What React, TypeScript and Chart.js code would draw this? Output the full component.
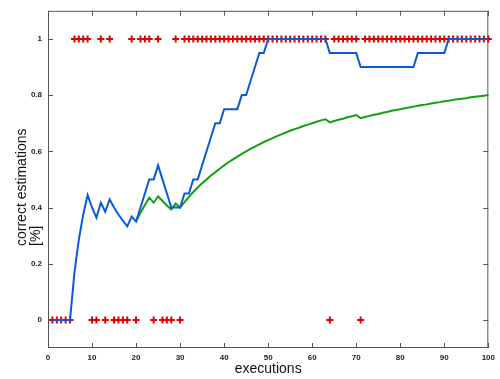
import { useEffect, useRef } from "react";
import { Chart, registerables } from "chart.js";

Chart.register(...registerables);

// Outcome of each execution 1..100 (1 = correct estimation, 0 = wrong)
const outcomes: number[] = [
  0, 0, 0, 0, 0, 1, 1, 1, 1, 0,
  0, 1, 0, 1, 0, 0, 0, 0, 1, 0,
  1, 1, 1, 0, 1, 0, 0, 0, 1, 0,
  1, 1, 1, 1, 1, 1, 1, 1, 1, 1,
  1, 1, 1, 1, 1, 1, 1, 1, 1, 1,
  1, 1, 1, 1, 1, 1, 1, 1, 1, 1,
  1, 1, 1, 0, 1, 1, 1, 1, 1, 1,
  0, 1, 1, 1, 1, 1, 1, 1, 1, 1,
  1, 1, 1, 1, 1, 1, 1, 1, 1, 1,
  1, 1, 1, 1, 1, 1, 1, 1, 1, 1,
];

// Rate of correct estimations over the last (up to) 20 executions, executions 1..100
const windowRate: number[] = [
  0, 0, 0, 0, 0, 0.167, 0.286, 0.375, 0.444, 0.4,
  0.364, 0.417, 0.385, 0.429, 0.4, 0.375, 0.353, 0.333, 0.368, 0.35,
  0.4, 0.45, 0.5, 0.5, 0.55, 0.5, 0.45, 0.4, 0.4, 0.4,
  0.45, 0.45, 0.5, 0.5, 0.55, 0.6, 0.65, 0.7, 0.7, 0.75,
  0.75, 0.75, 0.75, 0.8, 0.8, 0.85, 0.9, 0.95, 0.95, 1,
  1, 1, 1, 1, 1, 1, 1, 1, 1, 1,
  1, 1, 1, 0.95, 0.95, 0.95, 0.95, 0.95, 0.95, 0.95,
  0.9, 0.9, 0.9, 0.9, 0.9, 0.9, 0.9, 0.9, 0.9, 0.9,
  0.9, 0.9, 0.9, 0.95, 0.95, 0.95, 0.95, 0.95, 0.95, 0.95,
  1, 1, 1, 1, 1, 1, 1, 1, 1, 1,
];

// Overall rate of correct estimations, executions 20..100
const overallStart = 20;
const overallRate: number[] = [
  0.35, 0.381, 0.409, 0.435, 0.417, 0.44, 0.423, 0.407, 0.393, 0.414,
  0.4, 0.419, 0.438, 0.455, 0.471, 0.486, 0.5, 0.514, 0.526, 0.538,
  0.55, 0.561, 0.571, 0.581, 0.591, 0.6, 0.609, 0.617, 0.625, 0.633,
  0.64, 0.647, 0.654, 0.66, 0.667, 0.673, 0.679, 0.684, 0.69, 0.695,
  0.7, 0.705, 0.71, 0.714, 0.703, 0.708, 0.712, 0.716, 0.721, 0.725,
  0.729, 0.718, 0.722, 0.726, 0.73, 0.733, 0.737, 0.74, 0.744, 0.747,
  0.75, 0.753, 0.756, 0.759, 0.762, 0.765, 0.767, 0.77, 0.773, 0.775,
  0.778, 0.78, 0.783, 0.785, 0.787, 0.789, 0.792, 0.794, 0.796, 0.798,
  0.8,
];

const yTickValues: number[] = [0, 0.2, 0.4, 0.6, 0.8, 1];
const xTitle = "executions";
const yTitleLines: string[] = ["correct estimations", "[%]"];

const TITLE_FONT = "14px 'Liberation Sans', Arial, sans-serif";

// Box frame with inward tick marks on all four sides, plus the axis titles
const framePlugin = {
  id: "boxFrame",
  beforeDatasetsDraw(chart: any) {
    const { ctx, chartArea: a, scales } = chart;
    const x = scales.x;
    const y = scales.y;
    const len = 5;
    ctx.save();
    ctx.strokeStyle = "#555";
    ctx.lineWidth = 1;
    ctx.strokeRect(a.left + 0.5, a.top + 0.5, a.right - a.left - 1, a.bottom - a.top - 1);
    ctx.beginPath();
    x.ticks.forEach((t: any) => {
      const px = Math.round(x.getPixelForValue(t.value)) + 0.5;
      ctx.moveTo(px, a.bottom);
      ctx.lineTo(px, a.bottom - len);
      ctx.moveTo(px, a.top);
      ctx.lineTo(px, a.top + len);
    });
    y.ticks.forEach((t: any) => {
      const py = Math.round(y.getPixelForValue(t.value)) + 0.5;
      ctx.moveTo(a.left, py);
      ctx.lineTo(a.left + len, py);
      ctx.moveTo(a.right, py);
      ctx.lineTo(a.right - len, py);
    });
    ctx.stroke();
    ctx.restore();
  },
  afterDraw(chart: any) {
    const { ctx, chartArea: a } = chart;
    ctx.save();
    ctx.fillStyle = "#111";
    ctx.font = TITLE_FONT;
    ctx.textAlign = "center";
    ctx.textBaseline = "alphabetic";
    ctx.fillText(xTitle, (a.left + a.right) / 2, 373);
    ctx.textAlign = "left";
    yTitleLines.forEach((line, i) => {
      ctx.save();
      ctx.translate(26 + i * 14, 246);
      ctx.rotate(-Math.PI / 2);
      ctx.fillText(line, 0, 0);
      ctx.restore();
    });
    ctx.restore();
  },
};

export default function App() {
  const canvasRef = useRef<HTMLCanvasElement | null>(null);

  useEffect(() => {
    document.body.style.margin = "0";
    const canvas = canvasRef.current;
    if (!canvas) return;

    const outcomePoints = outcomes.map((v, i) => ({ x: i + 1, y: v }));
    const windowPoints = windowRate.map((v, i) => ({ x: i + 1, y: v }));
    const overallPoints = overallRate.map((v, i) => ({ x: overallStart + i, y: v }));

    const chart = new Chart(canvas, {
      type: "line",
      data: {
        datasets: [
          {
            label: "window",
            data: windowPoints,
            borderColor: "#0a5ad8",
            borderWidth: 2,
            pointRadius: 0,
            tension: 0,
            fill: false,
            clip: false,
            order: 1,
          },
          {
            label: "overall",
            data: overallPoints,
            borderColor: "#12a012",
            borderWidth: 2,
            pointRadius: 0,
            tension: 0,
            fill: false,
            clip: false,
            order: 2,
          },
          {
            label: "outcome",
            data: outcomePoints,
            showLine: false,
            pointStyle: "cross",
            pointRadius: 3.5,
            pointBorderWidth: 2,
            pointBorderColor: "#e00000",
            pointBackgroundColor: "#e00000",
            borderColor: "#e00000",
            clip: false,
            order: 3,
          },
        ],
      },
      options: {
        animation: false,
        responsive: false,
        maintainAspectRatio: false,
        layout: { padding: { top: 10, right: 8, left: 0, bottom: 0 } },
        plugins: {
          legend: { display: false },
          tooltip: { enabled: false },
          title: { display: false },
        },
        scales: {
          x: {
            type: "linear",
            min: 0,
            max: 100,
            grid: { display: false, drawTicks: false },
            border: { display: false },
            ticks: {
              stepSize: 10,
              padding: 5,
              color: "#222",
              font: { family: "'Liberation Sans', Arial, sans-serif", size: 8, weight: "bold" },
              maxRotation: 0,
            },
            afterFit: (s: any) => {
              s.height = 31;
            },
          },
          y: {
            type: "linear",
            min: -0.1,
            max: 1.1,
            grid: { display: false, drawTicks: false },
            border: { display: false },
            afterBuildTicks: (s: any) => {
              s.ticks = yTickValues.map((v) => ({ value: v }));
            },
            ticks: {
              padding: 6,
              color: "#222",
              font: { family: "'Liberation Sans', Arial, sans-serif", size: 8, weight: "bold" },
              callback: (v: any) => String(Math.round(Number(v) * 10) / 10),
            },
            afterFit: (s: any) => {
              s.width = 48;
            },
          },
        },
      },
      plugins: [framePlugin],
    });

    return () => chart.destroy();
  }, []);

  return (
    <div style={{ width: 500, height: 379, background: "#fff" }}>
      <canvas ref={canvasRef} width={500} height={379} />
    </div>
  );
}
